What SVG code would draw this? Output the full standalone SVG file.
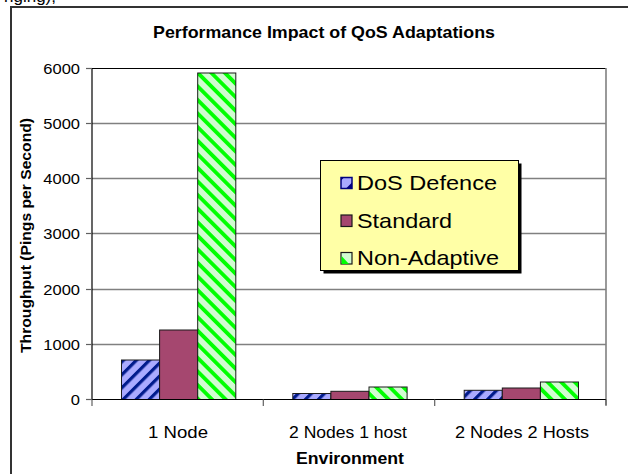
<svg xmlns="http://www.w3.org/2000/svg" width="628" height="474" viewBox="0 0 628 474">
  <style>
    text { font-family: "Liberation Sans", Arial, sans-serif; fill: #000; }
    .bold { font-weight: bold; }
    .grid { stroke: #808080; stroke-width: 1.3; }
    .axis { stroke: #000; stroke-width: 1.2; }
    .tick { stroke: #606060; stroke-width: 1.2; }
    .bar { stroke: #1a1a1a; stroke-width: 1; }
    .ytick { font-size: 15.5px; text-anchor: end; }
    .xcat { font-size: 17px; text-anchor: middle; }
    .leg { font-size: 21px; }
  </style>
  <defs>
    <!-- "/" stripes: navy on light blue -->
    <pattern id="patDos" patternUnits="userSpaceOnUse" width="9.2" height="9.2" patternTransform="rotate(45)">
      <rect width="9.2" height="9.2" fill="#AAAAFF"/>
      <rect x="0" width="3.2" height="9.2" fill="#001a8c"/>
    </pattern>
    <!-- "\" stripes: green on pale green -->
    <pattern id="patNa" patternUnits="userSpaceOnUse" width="9.6" height="9.6" patternTransform="rotate(-45)">
      <rect width="9.6" height="9.6" fill="#D2FCD2"/>
      <rect x="0" width="3.8" height="9.6" fill="#00FF00"/>
    </pattern>
  </defs>

  <!-- page text cut by the top edge -->
  <text x="4" y="2" style="font-size:17px">nging),</text>

  <!-- chart frame (left and top edges) -->
  <line x1="11" y1="6" x2="11" y2="474" stroke="#333" stroke-width="2"/>
  <line x1="10" y1="7" x2="628" y2="7" stroke="#333" stroke-width="2"/>

  <!-- title -->
  <text id="title" class="bold" x="324" y="37.5" text-anchor="middle" style="font-size:16.5px" textLength="342" lengthAdjust="spacingAndGlyphs">Performance Impact of QoS Adaptations</text>

  <!-- plot area: grid, frame -->
  <g id="plot">
    <rect x="92" y="68.5" width="514" height="331" fill="#fff"/>
    <line class="grid" x1="92" y1="123.5" x2="606" y2="123.5"/>
    <line class="grid" x1="92" y1="178.5" x2="606" y2="178.5"/>
    <line class="grid" x1="92" y1="233.5" x2="606" y2="233.5"/>
    <line class="grid" x1="92" y1="289.5" x2="606" y2="289.5"/>
    <line class="grid" x1="92" y1="344.5" x2="606" y2="344.5"/>
    <line x1="92" y1="68.5" x2="606" y2="68.5" stroke="#000" stroke-width="1.2"/>
    <line x1="606" y1="68" x2="606" y2="405" stroke="#808080" stroke-width="1.6"/>
  </g>

  <!-- bars -->
  <g id="series-dos">
    <rect class="bar" x="121.5" y="360" width="38.1" height="39.5" fill="url(#patDos)"/>
    <rect class="bar" x="292.8" y="393.5" width="38.1" height="6" fill="url(#patDos)"/>
    <rect class="bar" x="464.2" y="390.3" width="38.1" height="9.2" fill="url(#patDos)"/>
  </g>
  <g id="series-standard">
    <rect class="bar" x="159.6" y="330" width="38.1" height="69.5" fill="#A5476F"/>
    <rect class="bar" x="330.9" y="391.3" width="38.1" height="8.2" fill="#A5476F"/>
    <rect class="bar" x="502.3" y="388" width="38.1" height="11.5" fill="#A5476F"/>
  </g>
  <g id="series-nonadaptive">
    <rect class="bar" x="197.7" y="73" width="38.1" height="326.5" fill="url(#patNa)"/>
    <rect class="bar" x="369" y="387" width="38.1" height="12.5" fill="url(#patNa)"/>
    <rect class="bar" x="540.4" y="382" width="38.1" height="17.5" fill="url(#patNa)"/>
  </g>

  <!-- axes and ticks -->
  <g id="axes">
    <line class="axis" x1="92" y1="68" x2="92" y2="400"/>
    <line class="axis" x1="92" y1="399.5" x2="606" y2="399.5"/>
    <line class="tick" x1="86" y1="68.5" x2="92" y2="68.5"/>
    <line class="tick" x1="86" y1="123.5" x2="92" y2="123.5"/>
    <line class="tick" x1="86" y1="178.5" x2="92" y2="178.5"/>
    <line class="tick" x1="86" y1="233.5" x2="92" y2="233.5"/>
    <line class="tick" x1="86" y1="289.5" x2="92" y2="289.5"/>
    <line class="tick" x1="86" y1="344.5" x2="92" y2="344.5"/>
    <line class="tick" x1="86" y1="399.5" x2="92" y2="399.5"/>
    <line class="tick" x1="92" y1="399.5" x2="92" y2="406"/>
    <line class="tick" x1="263.3" y1="399.5" x2="263.3" y2="406"/>
    <line class="tick" x1="434.7" y1="399.5" x2="434.7" y2="406"/>
    <line class="tick" x1="606" y1="399.5" x2="606" y2="406"/>
  </g>

  <!-- value axis labels -->
  <g id="y-labels">
    <text class="ytick" x="80" y="74" textLength="36.7" lengthAdjust="spacingAndGlyphs">6000</text>
    <text class="ytick" x="80" y="129" textLength="36.7" lengthAdjust="spacingAndGlyphs">5000</text>
    <text class="ytick" x="80" y="184" textLength="36.7" lengthAdjust="spacingAndGlyphs">4000</text>
    <text class="ytick" x="80" y="239" textLength="36.7" lengthAdjust="spacingAndGlyphs">3000</text>
    <text class="ytick" x="80" y="295" textLength="36.7" lengthAdjust="spacingAndGlyphs">2000</text>
    <text class="ytick" x="80" y="350" textLength="36.7" lengthAdjust="spacingAndGlyphs">1000</text>
    <text class="ytick" x="80" y="405" textLength="9.2" lengthAdjust="spacingAndGlyphs">0</text>
  </g>
  <text id="y-title" class="bold" transform="translate(31 235.5) rotate(-90)" text-anchor="middle" style="font-size:14.5px" textLength="235" lengthAdjust="spacingAndGlyphs">Throughput (Pings per Second)</text>

  <!-- category labels -->
  <g id="x-labels">
    <text class="xcat" x="178" y="437.5" textLength="60" lengthAdjust="spacingAndGlyphs">1 Node</text>
    <text class="xcat" x="348" y="437.5" textLength="118" lengthAdjust="spacingAndGlyphs">2 Nodes 1 host</text>
    <text class="xcat" x="522" y="437.5" textLength="134" lengthAdjust="spacingAndGlyphs">2 Nodes 2 Hosts</text>
  </g>
  <text id="x-title" class="bold" x="350" y="463.5" text-anchor="middle" style="font-size:16.5px" textLength="108" lengthAdjust="spacingAndGlyphs">Environment</text>

  <!-- legend -->
  <g id="legend">
    <rect x="323.5" y="163.5" width="198" height="110" fill="#000"/>
    <rect x="320.5" y="160.5" width="198" height="110" fill="#FFFFA6" stroke="#000" stroke-width="1"/>
    <g id="legend-dos">
      <rect x="341" y="177.5" width="11" height="11" fill="#AAAAFF" stroke="#000080" stroke-width="1.5"/>
      <polygon points="352,182.5 352,188.5 346,188.5" fill="#000080"/>
      <polygon points="341,177.5 344,177.5 341,180.5" fill="#000080"/>
      <text class="leg" x="357" y="190" textLength="140" lengthAdjust="spacingAndGlyphs">DoS Defence</text>
    </g>
    <g id="legend-standard">
      <rect x="341" y="215" width="11" height="11.5" fill="#A5476F" stroke="#1a1a1a" stroke-width="1.2"/>
      <text class="leg" x="357" y="227.5" textLength="95" lengthAdjust="spacingAndGlyphs">Standard</text>
    </g>
    <g id="legend-nonadaptive">
      <rect x="341" y="252.5" width="11" height="11.5" fill="#D2FCD2" stroke="#1a1a1a" stroke-width="1.2"/>
      <polygon points="341.6,256 349,264 341.6,264" fill="#00FF00"/>
      <text class="leg" x="357" y="264.5" textLength="142" lengthAdjust="spacingAndGlyphs">Non-Adaptive</text>
    </g>
  </g>
</svg>
